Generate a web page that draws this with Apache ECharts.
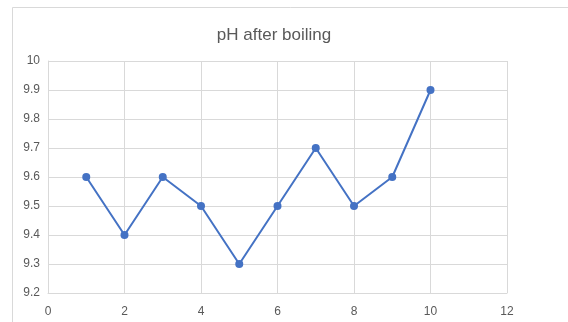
<!DOCTYPE html>
<html><head><meta charset="utf-8">
<script src="https://cdn.jsdelivr.net/npm/echarts@6/dist/echarts.min.js"></script>
<style>html,body{margin:0;padding:0;background:#fff}#c{width:568px;height:322px}</style>
</head><body><div id="c"></div>
<script>
const xValues = [1, 2, 3, 4, 5, 6, 7, 8, 9, 10];
const phValues = [9.6, 9.4, 9.6, 9.5, 9.3, 9.5, 9.7, 9.5, 9.6, 9.9];
const titleText = 'pH after boiling';

const chart = echarts.init(document.getElementById('c'), null, {renderer: 'canvas'});
const font = 'Liberation Sans';
chart.setOption({
  animation: false,
  backgroundColor: '#fff',
  graphic: [{
    type: 'rect', shape: {x: 12.5, y: 7.5, width: 700, height: 400},
    style: {fill: 'none', stroke: '#d9d9d9', lineWidth: 1}, silent: true
  }],
  title: {
    text: titleText, left: 269, top: 22, textAlign: 'center',
    textStyle: {fontFamily: font, fontSize: 17, fontWeight: 'normal', color: '#595959'}
  },
  grid: {left: 48, right: 61, top: 61, bottom: 29, containLabel: false},
  xAxis: {
    type: 'value', min: 0, max: 12, interval: 2,
    axisLine: {show: true, lineStyle: {color: '#d9d9d9', width: 1}},
    axisTick: {show: false},
    splitLine: {show: true, lineStyle: {color: '#d9d9d9', width: 1}},
    axisLabel: {fontFamily: font, fontSize: 12, color: '#595959', margin: 13}
  },
  yAxis: {
    type: 'value', min: 9.2, max: 10, interval: 0.1,
    axisLine: {show: true, lineStyle: {color: '#d9d9d9', width: 1}},
    axisTick: {show: false},
    splitLine: {show: true, lineStyle: {color: '#d9d9d9', width: 1}},
    axisLabel: {fontFamily: font, fontSize: 12, color: '#595959', margin: 8,
      formatter: v => String(Math.round(v * 10) / 10)}
  },
  series: [{
    type: 'line',
    data: xValues.map((x, i) => [x, phValues[i]]),
    symbol: 'circle', symbolSize: 8,
    lineStyle: {color: '#4472C4', width: 2},
    itemStyle: {color: '#4472C4'}
  }]
});
</script></body></html>
